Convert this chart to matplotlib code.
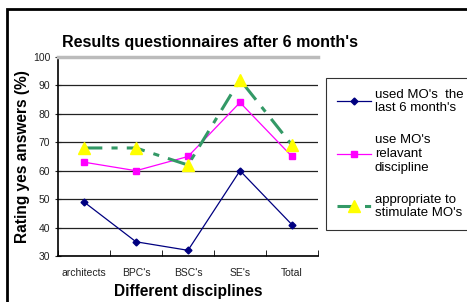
import matplotlib.pyplot as plt
from matplotlib.patches import Rectangle

disciplines = ["architects", "BPC's", "BSC's", "SE's", "Total"]
used_mo = [49, 35, 32, 60, 41]
relevant_mo = [63, 60, 65, 84, 65]
stimulate_mo = [68, 68, 62, 92, 69]

plt.rcParams['font.family'] = ['Liberation Sans', 'DejaVu Sans']

fig = plt.figure(figsize=(4.67, 3.02), dpi=100)
ax = fig.add_axes([58 / 467, 1 - 256 / 302, 260 / 467, 199 / 302])

# outer chart border (only top and left show)
fig.patches.append(Rectangle((7 / 467, -0.1), 1.2, 1 - 9 / 302 + 0.1, transform=fig.transFigure,
                             fill=False, edgecolor='black', linewidth=2, zorder=0))

x = range(len(disciplines))
ax.plot(x, used_mo, color='#000080', linewidth=0.9, marker='D', markersize=3.5,
        label="used MO's  the\nlast 6 month's")
ax.plot(x, relevant_mo, color='#ff00ff', linewidth=0.9, marker='s', markersize=4,
        label="use MO's\nrelavant\ndiscipline")
ax.plot(x, stimulate_mo, color='#339966', linewidth=2.2, linestyle=(0, (6, 3, 2, 3)),
        marker='^', markersize=9, markerfacecolor='#ffff00', markeredgecolor='#ffff00',
        label="appropriate to\nstimulate MO's")

ax.set_xlim(-0.5, 4.5)
ax.set_ylim(30, 100)
ax.set_yticks(range(30, 101, 10))
ax.set_xticks(x)
ax.set_xticklabels(disciplines)
ax.set_xticks([i + 0.5 for i in range(-1, 5)], minor=True)
ax.tick_params(axis='x', which='major', length=0, labelsize=7.5, pad=9, colors='#222222')
ax.tick_params(axis='x', which='minor', length=4, direction='in')
ax.tick_params(axis='y', length=4, direction='inout', labelsize=7.5, colors='#222222')
ax.grid(axis='y', color='#222222', linewidth=0.9)
ax.set_axisbelow(True)

ax.spines['right'].set_visible(False)
ax.spines['top'].set_color('#bbbbbb')
ax.spines['top'].set_linewidth(2.5)
ax.spines['left'].set_linewidth(1.2)
ax.spines['bottom'].set_linewidth(1.2)

fig.text(210 / 467, 1 - 42 / 302, "Results questionnaires after 6 month's", fontsize=11.5,
         fontweight='bold', ha='center', va='center')
ax.set_xlabel("Different disciplines", fontsize=11.2, fontweight='bold', labelpad=4)
ax.set_ylabel("Rating yes answers (%)", fontsize=11.2, fontweight='bold', labelpad=2)

leg = fig.legend(loc='upper left', bbox_to_anchor=(326 / 467, 1 - 78 / 302), fontsize=9.5,
                 frameon=True, fancybox=False, edgecolor='black', handlelength=2.6,
                 handletextpad=0.3, labelspacing=1.5, borderpad=0.8, borderaxespad=0)
leg.get_frame().set_linewidth(0.8)

fig.savefig("out.png", dpi=100)
